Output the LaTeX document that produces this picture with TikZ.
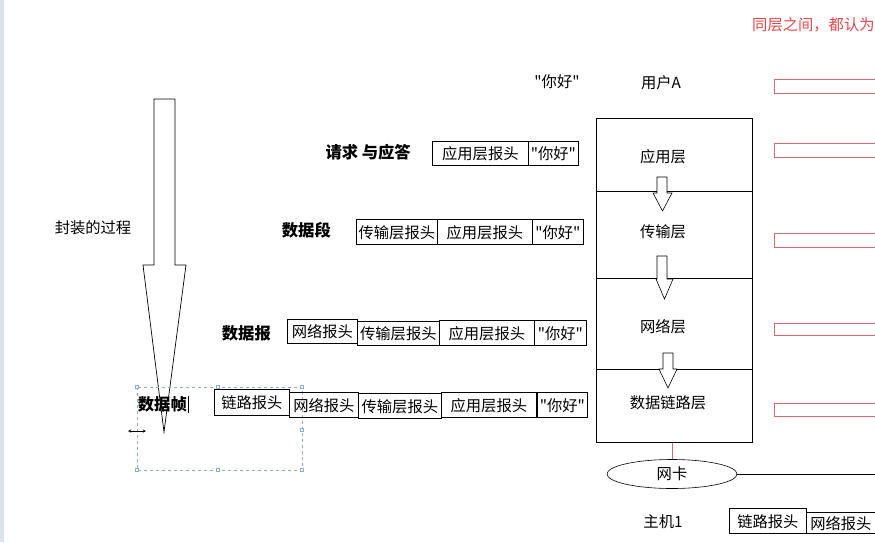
\documentclass[tikz,border=0pt]{standalone}
\usepackage{fontspec}
\newfontfamily\cjk{Noto Sans CJK SC}
\usetikzlibrary{shapes.geometric}
\definecolor{barred}{HTML}{D46A72}
\definecolor{txtred}{HTML}{E5484B}
\definecolor{selblue}{HTML}{8AAFC6}
\definecolor{strip}{HTML}{DCE2EC}
\tikzset{
  cell/.style={draw, line width=0.7pt, inner sep=0pt, anchor=north west, font=\cjk\fontsize{15.3}{15}\selectfont, text depth=-3pt},
  lbl/.style={inner sep=0pt, font=\cjk\fontsize{15.3}{15}\selectfont},
  blbl/.style={inner sep=0pt, font=\cjk\bfseries\fontsize{16.3}{16}\selectfont},
  layer/.style={draw, line width=0.7pt, inner sep=0pt, anchor=north west, minimum width=156pt},
  rbar/.style={draw=barred, line width=0.8pt},
  hollow/.style={draw, line width=0.6pt, fill=white},
  handle/.style={draw=selblue, fill=white, line width=0.4pt, minimum size=3pt, inner sep=0pt},
}
\begin{document}
\begin{tikzpicture}[x=1pt,y=-1pt]
\useasboundingbox (0,0) rectangle (875,542);
\fill[white] (0,0) rectangle (875,542);
\fill[strip] (0,0) rectangle (4,542);

% big encapsulation arrow
\draw[line width=0.7pt] (154,99) -- (175,99) -- (175,265) -- (186,265) -- (164,432) -- (143,265) -- (154,265) -- cycle;
\node[lbl] (enc) at (93,228) {封装的过程};

% selection frame
\draw[selblue, dashed, line width=0.6pt] (137,387) rectangle (302,470);
\foreach \p in {(137,387),(218,387),(302,387),(302,430),(137,470),(218,470),(302,470)}
  \node[handle] at \p {};
\draw[line width=0.5pt, <->, >=stealth] (128,431) -- (146,431);

% row labels
\node[blbl, anchor=east] (l1) at (411,152) {请求 与应答};
\node[blbl, anchor=east] (l2) at (331,230) {数据段};
\node[blbl, anchor=east] (l3) at (271,333) {数据报};
\node[blbl, anchor=east] (l4) at (187,404) {数据帧};
\draw[line width=0.6pt] (188,396) -- (188,413);

% row 1
\node[cell, minimum width=96pt, minimum height=24pt] (a1) at (432,141) {应用层报头};
\node[cell, minimum width=50pt, minimum height=24pt] (a2) at (528,141) {"你好"};
% row 2
\node[cell, minimum width=81pt, minimum height=25pt] (b1) at (356,219) {传输层报头};
\node[cell, minimum width=95pt, minimum height=25pt] (b2) at (437,219) {应用层报头};
\node[cell, minimum width=51pt, minimum height=25pt] (b3) at (532,219) {"你好"};
% row 3
\node[cell, minimum width=70pt, minimum height=24pt] (c1) at (287,319) {网络报头};
\node[cell, minimum width=82pt, minimum height=24pt] (c2) at (357,321) {传输层报头};
\node[cell, minimum width=95pt, minimum height=25pt] (c3) at (439,320) {应用层报头};
\node[cell, minimum width=52pt, minimum height=25pt] (c4) at (534,320) {"你好"};
% row 4
\node[cell, minimum width=75pt, minimum height=26pt] (d1) at (214,389) {链路报头};
\node[cell, minimum width=69pt, minimum height=25pt] (d2) at (289,392) {网络报头};
\node[cell, minimum width=83pt, minimum height=25pt] (d3) at (358,393) {传输层报头};
\node[cell, minimum width=95pt, minimum height=25pt] (d4) at (441,392) {应用层报头};
\node[cell, minimum width=50pt, minimum height=25pt] (d5) at (537,392) {"你好"};

% top texts
\node[lbl] (hello) at (557,82) {"你好"};
\node[lbl] (userA) at (661,83) {用户A};
\node[lbl, text=txtred, anchor=west] (note) at (752,25) {同层之间，都认为};

% protocol stack
\node[layer, minimum height=73pt] (app) at (596,118) {};
\node[layer, minimum height=87pt] (trans) at (596,191) {};
\node[layer, minimum height=91pt] (net) at (596,278) {};
\node[layer, minimum height=73pt] (link) at (596,369) {};
\node[lbl] (appT) at (663,157) {应用层};
\node[lbl] (transT) at (663,232) {传输层};
\node[lbl] (netT) at (663,327) {网络层};
\node[lbl] (linkT) at (668,403) {数据链路层};

% small hollow arrows
\draw[hollow] (657,177) -- (667,177) -- (667,193) -- (672,193) -- (662.5,211) -- (653,193) -- (657,193) -- cycle;
\draw[hollow] (657,256) -- (667,256) -- (667,279) -- (673,279) -- (664.5,299) -- (656,279) -- (657,279) -- cycle;
\draw[hollow] (663,353) -- (673,353) -- (673,369) -- (677,369) -- (668,388) -- (659,369) -- (663,369) -- cycle;

% NIC
\node[ellipse, draw, line width=0.6pt, minimum width=130pt, minimum height=29pt, inner sep=0pt, font=\cjk\fontsize{15.3}{15}\selectfont] (nic) at (672,474) {网卡};
\coordinate (wireend) at (875,474);
\draw[barred, line width=0.6pt] (link.south -| nic.north) -- (nic.north);
\draw[line width=0.6pt] (nic.east) -- (wireend);

\node[lbl] (host) at (663,522) {主机1};
\node[cell, minimum width=77pt, minimum height=25pt] (e1) at (729,508) {链路报头};
\node[cell, minimum width=69pt, minimum height=21pt] (e2) at (806,512) {网络报头};

% red bars
\draw[rbar] (774,79) rectangle (890,93);
\draw[rbar] (774,143) rectangle (890,157);
\draw[rbar] (774,233) rectangle (890,247);
\draw[rbar] (774,323) rectangle (890,335);
\draw[rbar] (774,403) rectangle (890,416);
\end{tikzpicture}
\end{document}
